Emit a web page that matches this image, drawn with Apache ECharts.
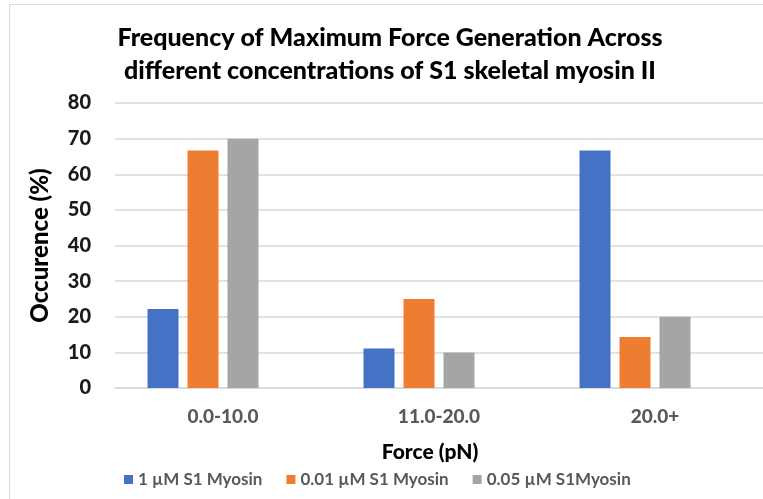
<!DOCTYPE html>
<html>
<head>
<meta charset="utf-8">
<script src="https://cdn.jsdelivr.net/npm/echarts@6/dist/echarts.min.js"></script>
<style>
  html, body { margin: 0; padding: 0; background: #ffffff; }
  #chart { width: 763px; height: 499px; }
</style>
</head>
<body>
<div id="chart"></div>
<script>
// Force bins on the x axis
const categories = ['0.0-10.0', '11.0-20.0', '20.0+'];

// Occurrence (%) of maximum force per myosin concentration
const seriesNames = ['1 µM S1 Myosin', '0.01 µM S1 Myosin', '0.05 µM S1Myosin'];
const myosin1uM = [22.2, 11.1, 66.7];
const myosin001uM = [66.7, 25.0, 14.3];
const myosin005uM = [70.0, 10.0, 20.0];
// fourth, empty slot in each cluster
const emptySlot = [null, null, null];

// y axis ticks
const yMin = 0, yMax = 80, yStep = 10;

const FONT = 'Lato';
const colors = ['#4472C4', '#ED7D31', '#A5A5A5'];

const chart = echarts.init(document.getElementById('chart'), null, { renderer: 'canvas' });

const barStyle = { barWidth: 31, barGap: '29%' };

chart.setOption({
  animation: false,
  backgroundColor: '#ffffff',
  textStyle: { fontFamily: FONT },
  graphic: [
    {
      type: 'rect',
      shape: { x: 9.5, y: 4.5, width: 900, height: 700 },
      style: { fill: 'none', stroke: '#d9d9d9', lineWidth: 1 },
      silent: true, z: -1
    },
    {
      type: 'text',
      x: 390, y: 21,
      style: {
        text: 'Frequency of Maximum Force Generation Across\ndifferent concentrations of S1 skeletal myosin II',
        fontFamily: FONT, fontWeight: 900, fontSize: 25, lineHeight: 33,
        fill: '#000000', textAlign: 'center', textVerticalAlign: 'top'
      }
    },
    {
      type: 'text',
      x: 430, y: 442,
      style: {
        text: 'Force (pN)',
        fontFamily: FONT, fontWeight: 900, fontSize: 21,
        fill: '#000000', textAlign: 'center', textVerticalAlign: 'top'
      }
    }
  ],
  legend: {
    data: seriesNames,
    left: 119, top: 466,
    icon: 'rect',
    itemWidth: 9, itemHeight: 9,
    itemGap: 24,
    textStyle: { fontFamily: FONT, fontSize: 17, fontWeight: 'bold', color: '#595959', padding: [0, 0, 0, 0] }
  },
  grid: { left: 115, right: -6, top: 103, bottom: 111, containLabel: false },
  xAxis: {
    type: 'category',
    data: categories,
    axisLine: { show: true, lineStyle: { color: '#d9d9d9', width: 1.5 } },
    axisTick: { show: false },
    axisLabel: {
      margin: 19, fontFamily: FONT, fontSize: 19, fontWeight: 900, color: '#595959'
    }
  },
  yAxis: {
    type: 'value',
    min: yMin, max: yMax, interval: yStep,
    name: 'Occurence (%)',
    nameLocation: 'middle',
    nameRotate: 90,
    nameGap: 63,
    nameTextStyle: { fontFamily: FONT, fontSize: 24, fontWeight: 900, color: '#000000' },
    axisLine: { show: false },
    axisTick: { show: false },
    axisLabel: { margin: 24, fontFamily: FONT, fontSize: 20, fontWeight: 900, color: '#1a1a1a' },
    splitLine: { lineStyle: { color: '#d9d9d9', width: 1.5 } }
  },
  series: [
    Object.assign({ type: 'bar', name: seriesNames[0], data: myosin1uM, itemStyle: { color: colors[0] } }, barStyle),
    Object.assign({ type: 'bar', name: seriesNames[1], data: myosin001uM, itemStyle: { color: colors[1] } }, barStyle),
    Object.assign({ type: 'bar', name: seriesNames[2], data: myosin005uM, itemStyle: { color: colors[2] } }, barStyle),
    Object.assign({ type: 'bar', name: 'slot', data: emptySlot, itemStyle: { color: 'transparent' } }, barStyle)
  ]
});
</script>
</body>
</html>
